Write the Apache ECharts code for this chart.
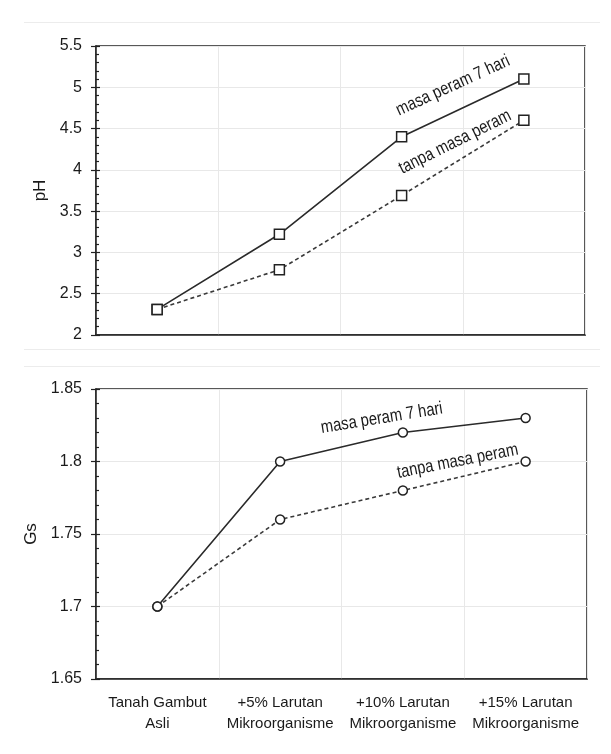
<!DOCTYPE html>
<html>
<head>
<meta charset="utf-8">
<script src="https://cdn.jsdelivr.net/npm/echarts@6/dist/echarts.min.js"></script>
<style>
html,body{margin:0;padding:0;background:#fff;}
#c{width:611px;height:754px;}
</style>
</head>
<body>
<div id="c"></div>
<script>
const categories = ["Tanah Gambut\nAsli", "+5% Larutan\nMikroorganisme", "+10% Larutan\nMikroorganisme", "+15% Larutan\nMikroorganisme"];
const seriesNames = ["masa peram 7 hari", "tanpa masa peram"];
const phPeram = [2.31, 3.22, 4.40, 5.10];
const phTanpa = [2.31, 2.79, 3.69, 4.60];
const gsPeram = [1.70, 1.80, 1.82, 1.83];
const gsTanpa = [1.70, 1.76, 1.78, 1.80];
const phTicks = [2, 2.5, 3, 3.5, 4, 4.5, 5, 5.5];
const gsTicks = [1.65, 1.7, 1.75, 1.8, 1.85];

const FONT = '"Liberation Sans Narrow", "Arial Narrow", "Liberation Sans", Arial, sans-serif';
const TXT = '#1a1a1a';
const chart = echarts.init(document.getElementById('c'), null, {renderer: 'canvas'});

function xAx(gridIndex, showLabels) {
  return {
    type: 'category', gridIndex, data: categories, boundaryGap: true,
    axisLine: {show: true, lineStyle: {color: '#222', width: 1.5}},
    axisTick: {show: false},
    axisLabel: {show: showLabels, fontFamily: FONT, fontSize: 15, color: TXT, lineHeight: 21, margin: 13, interval: 0},
    splitLine: {show: true, interval: 0, lineStyle: {color: '#e8e8e8', width: 1}}
  };
}
function yAxMain(gridIndex, ticks, name, nameGap) {
  const iv = +(ticks[1] - ticks[0]).toFixed(4);
  return {
    type: 'value', gridIndex, min: ticks[0], max: ticks[ticks.length - 1], interval: iv,
    name, nameLocation: 'middle', nameGap, nameRotate: 90,
    nameTextStyle: {fontFamily: FONT, fontSize: 17, color: TXT},
    axisLine: {show: true, lineStyle: {color: '#222', width: 1.5}},
    axisTick: {show: true, inside: false, length: 5, lineStyle: {color: '#222', width: 1.2}},
    minorTick: {show: false},
    axisLabel: {fontFamily: FONT, fontSize: 16, color: TXT, margin: 14,
      formatter: v => String(+v.toFixed(4))},
    splitLine: {show: true, lineStyle: {color: '#e8e8e8', width: 1}}
  };
}
function yAxMinor(gridIndex, ticks) {
  const iv = +(ticks[1] - ticks[0]).toFixed(4);
  return {
    type: 'value', gridIndex, min: ticks[0], max: ticks[ticks.length - 1], interval: iv,
    position: 'left',
    axisLine: {show: false},
    axisTick: {show: true, inside: true, length: 4, lineStyle: {color: '#222', width: 1.2}},
    minorTick: {show: true, splitNumber: 5, length: 3, lineStyle: {color: '#222', width: 1.2}},
    axisLabel: {show: false},
    splitLine: {show: false}
  };
}

const solidStyle = {color: '#2a2a2a', width: 1.6, type: 'solid'};
const dashStyle = {color: '#3a3a3a', width: 1.6, type: [4, 3]};
function ser(name, data, xi, yi, lineStyle, symbol, size) {
  return {
    name, type: 'line', xAxisIndex: xi, yAxisIndex: yi, data,
    symbol, symbolSize: size, showAllSymbol: true,
    lineStyle, itemStyle: {color: '#fff', borderColor: '#222', borderWidth: 1.5},
    emphasis: {disabled: true}, animation: false, z: 3
  };
}

chart.setOption({
  animation: false,
  backgroundColor: '#fff',
  grid: [
    {left: 96, top: 46, right: 26, height: 289, show: true, borderColor: '#222', borderWidth: 1.5, backgroundColor: 'transparent'},
    {left: 96, top: 389, right: 24, height: 290, show: true, borderColor: '#222', borderWidth: 1.5, backgroundColor: 'transparent'}
  ],
  xAxis: [xAx(0, false), xAx(1, true)],
  yAxis: [yAxMain(0, phTicks, 'pH', 36), yAxMinor(0, phTicks), yAxMain(1, gsTicks, 'Gs', 46), yAxMinor(1, gsTicks)],
  series: [
    ser(seriesNames[1], phTanpa, 0, 0, dashStyle, 'rect', 10),
    ser(seriesNames[0], phPeram, 0, 0, solidStyle, 'rect', 10),
    ser(seriesNames[1], gsTanpa, 1, 2, dashStyle, 'circle', 9),
    ser(seriesNames[0], gsPeram, 1, 2, solidStyle, 'circle', 9)
  ]
});

// annotations placed along line segments, computed via the chart's scales
const notes = [
  {text: seriesNames[0], data: phPeram, grid: 0, yi: 0, seg: 2, t: 0.45, up: 17, rot: 24.5},
  {text: seriesNames[1], data: phTanpa, grid: 0, yi: 0, seg: 2, t: 0.47, up: 10, rot: 26.5},
  {text: seriesNames[0], data: gsPeram, grid: 1, yi: 2, seg: 1, t: 0.84, up: 10, rot: 9.2},
  {text: seriesNames[1], data: gsTanpa, grid: 1, yi: 2, seg: 2, t: 0.46, up: 7, rot: 11}
];
const graphics = notes.map(n => {
  const a = chart.convertToPixel({xAxisIndex: n.grid, yAxisIndex: n.yi}, [n.seg, n.data[n.seg]]);
  const b = chart.convertToPixel({xAxisIndex: n.grid, yAxisIndex: n.yi}, [n.seg + 1, n.data[n.seg + 1]]);
  const x = a[0] + (b[0] - a[0]) * n.t;
  const y = a[1] + (b[1] - a[1]) * n.t - n.up;
  return {
    type: 'text', x, y, rotation: n.rot * Math.PI / 180, scaleX: 0.82, z: 10,
    style: {text: n.text, fontFamily: FONT, fontSize: 18, fill: TXT, textAlign: 'center', textVerticalAlign: 'bottom'}
  };
});
// faint panel separators
[22.5, 349.5, 366.5].forEach(yy => graphics.push({
  type: 'line', shape: {x1: 24, y1: yy, x2: 600, y2: yy}, style: {stroke: '#ececec', lineWidth: 1}, z: 0
}));
chart.setOption({graphic: graphics});
</script>
</body>
</html>
